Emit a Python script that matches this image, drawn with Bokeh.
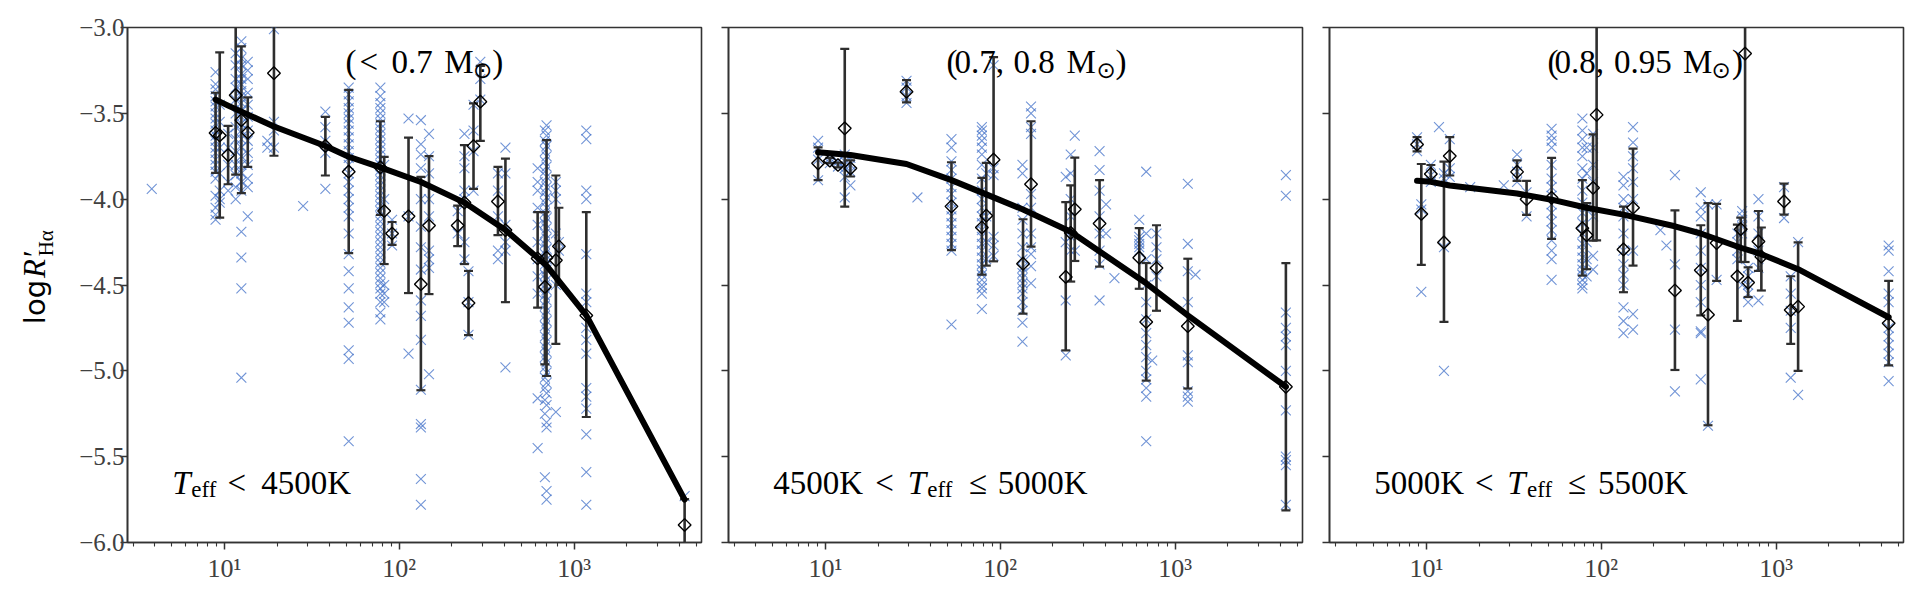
import math
from bokeh.plotting import figure
from bokeh.models import FixedTicker, CustomJSTickFormatter, Label, Range1d
from bokeh.layouts import row
from bokeh.embed import file_html
from bokeh.resources import INLINE

# ---------------- data ----------------
X_RANGE = (2.79, 5358.0)
Y_RANGE = (-6.0, -3.0)
y_ticks = [-6.0, -5.5, -5.0, -4.5, -4.0, -3.5, -3.0]
x_ticks = [10, 100, 1000]
x_minor = [3, 4, 5, 6, 7, 8, 9, 20, 30, 40, 50, 60, 70, 80, 90,
           200, 300, 400, 500, 600, 700, 800, 900, 2000, 3000, 4000, 5000]

# individual stars: (cluster age, [log R'Ha values])
p1_stars = [
    (3.84, [-3.94]),
    (8.9, [-3.26, -3.33, -3.36, -3.4, -3.43, -3.46, -3.5, -3.53, -3.56, -3.6, -3.63, -3.66,
           -3.7, -3.73, -3.77, -3.8, -3.84, -3.88, -3.98, -4.05, -4.09, -4.12]),
    (9.4, [-3.45, -3.55, -3.7, -3.85, -3.95, -4.0, -4.02]),
    (10.5, [-3.62, -3.7, -3.8, -3.9, -3.95]),
    (11.6, [-3.15, -3.22, -3.3, -3.35, -3.42, -3.5, -3.58, -3.65, -3.72, -3.8, -3.86, -3.93, -4.0]),
    (12.5, [-3.08, -3.12, -3.18, -3.22, -3.27, -3.3, -3.33, -3.37, -3.4, -3.44, -3.48, -3.52,
            -3.56, -3.6, -3.65, -3.7, -3.75, -3.8, -3.85, -3.9, -3.95, -4.19, -4.34, -4.52, -5.04]),
    (13.6, [-3.2, -3.25, -3.3, -3.38, -3.45, -3.52, -3.6, -3.66, -3.73, -3.8, -3.88, -3.93, -4.1]),
    (17.6, [-3.66, -3.7]),
    (19.2, [-3.01, -3.55, -3.6, -3.7]),
    (28.2, [-4.04]),
    (37.8, [-3.49, -3.58, -3.66, -3.73, -3.94]),
    (51.4, [-3.35, -3.39, -3.43, -3.47, -3.5, -3.53, -3.56, -3.6, -3.64, -3.68, -3.72, -3.76,
            -3.8, -3.85, -3.9, -3.95, -4.0, -4.05, -4.1, -4.2, -4.32, -4.42, -4.52, -4.63,
            -4.72, -4.88, -4.93, -5.41]),
    (78.0, [-3.35, -3.4, -3.44, -3.47, -3.5, -3.53, -3.56, -3.59, -3.62, -3.65, -3.68, -3.71,
            -3.74, -3.77, -3.8, -3.83, -3.86, -3.89, -3.92, -3.95, -3.98, -4.01, -4.04, -4.07,
            -4.1, -4.13, -4.16, -4.19, -4.22, -4.25, -4.28, -4.31, -4.34, -4.37, -4.4, -4.43,
            -4.46, -4.49, -4.52, -4.55, -4.6, -4.66, -4.7]),
    (82.0, [-3.8, -4.0, -4.5, -4.55, -4.6]),
    (91.0, [-4.12, -4.2, -4.27]),
    (113.0, [-3.53, -4.1, -4.9]),
    (133.0, [-3.54, -3.68, -3.74, -3.82, -4.0, -4.16, -4.28, -4.41, -4.59, -4.68, -4.82,
             -5.11, -5.31, -5.33, -5.63, -5.78]),
    (148.0, [-3.62, -3.75, -3.85, -4.0, -4.1, -4.3, -4.35, -4.4, -5.02]),
    (216.0, [-4.07, -4.2]),
    (236.0, [-3.62, -3.75, -3.82, -3.95, -4.0, -4.25, -4.35]),
    (249.0, [-4.42, -4.6, -4.79]),
    (266.0, [-3.45, -3.6, -3.72, -3.95]),
    (291.0, [-3.2, -3.3, -3.42]),
    (367.0, [-3.85, -3.95, -4.1, -4.3, -4.35]),
    (405.0, [-3.7, -3.85, -4.15, -4.25, -4.3, -4.98]),
    (619.0, [-3.82, -3.9, -3.95, -4.05, -4.15, -4.25, -4.35, -4.45, -4.55, -5.16, -5.45]),
    (681.0, [-3.6, -3.66, -3.72, -3.78, -3.84, -3.9, -3.96, -4.02, -4.08, -4.14, -4.2, -4.26,
             -4.32, -4.38, -4.44, -4.5, -4.56, -4.62, -4.68, -4.74, -4.8, -4.86, -4.92,
             -4.98, -5.04, -5.1, -5.17, -5.25, -5.62]),
    (696.0, [-3.57, -3.63, -3.69, -3.75, -3.81, -3.87, -3.93, -3.99, -4.05, -4.11, -4.17,
             -4.23, -4.29, -4.35, -4.41, -4.47, -4.53, -4.59, -4.65, -4.71, -4.77, -4.83,
             -4.89, -4.95, -5.01, -5.07, -5.13, -5.2, -5.3, -5.33, -5.7, -5.75]),
    (787.0, [-3.9, -3.95, -4.0, -4.2, -4.5, -5.24]),
    (819.0, [-4.25, -4.3]),
    (1175.0, [-3.6, -3.65, -3.95, -4.0, -4.32, -4.55, -4.6, -4.75, -4.82, -4.9, -5.1,
              -5.15, -5.22, -5.37, -5.59, -5.78]),
    (4290.0, [-5.73]),
]

p2_stars = [
    (9.08, [-3.66, -3.7, -3.77, -3.89]),
    (10.6, [-3.76, -3.79]),
    (11.8, [-3.78, -3.81]),
    (12.9, [-3.74, -3.78, -3.82, -3.87, -3.99]),
    (13.9, [-3.76, -3.8, -3.84, -3.92]),
    (29.1, [-3.31, -3.35, -3.4, -3.44]),
    (33.6, [-3.99]),
    (52.6, [-3.65, -3.7, -3.78, -3.83, -3.88, -3.93, -3.97, -4.02, -4.06, -4.1, -4.14,
            -4.18, -4.22, -4.26, -4.3, -4.73]),
    (78.5, [-3.58, -3.6, -3.63, -3.66, -3.7, -3.74, -3.8, -3.88, -3.95, -4.0, -4.05, -4.1,
            -4.14, -4.18, -4.22, -4.26, -4.3, -4.34, -4.38, -4.41, -4.44, -4.47, -4.5,
            -4.52, -4.55, -4.64]),
    (83.2, [-3.85, -4.1, -4.25, -4.35]),
    (91.6, [-3.22, -3.82, -3.86, -4.22, -4.27, -4.33]),
    (134.0, [-3.8, -3.85, -4.05, -4.12, -4.2, -4.28, -4.35, -4.4, -4.43, -4.46, -4.49,
             -4.52, -4.55, -4.6, -4.65, -4.72, -4.83]),
    (150.0, [-3.46, -3.5, -3.58, -3.62, -3.97, -4.05, -4.2, -4.28, -4.32, -4.39, -4.49]),
    (237.0, [-3.87, -4.25, -4.59, -4.91]),
    (253.0, [-3.74, -3.85, -4.0, -4.1, -4.22, -4.3]),
    (267.0, [-3.63, -4.3]),
    (370.0, [-3.72, -3.83, -3.95, -4.1, -4.2, -4.3, -4.38, -4.59]),
    (403.0, [-4.03, -4.2]),
    (450.0, [-4.46]),
    (624.0, [-4.12, -4.22, -4.24, -4.26, -4.28, -4.3]),
    (684.0, [-3.84, -4.2, -4.35, -4.5, -4.6, -4.7, -4.78, -4.85, -4.92, -5.0, -5.05,
             -5.1, -5.15, -5.41]),
    (740.0, [-4.94]),
    (783.0, [-4.2, -4.28, -4.35, -4.45]),
    (1183.0, [-3.91, -4.26, -4.42, -4.6, -4.91, -4.95, -5.12, -5.15, -5.18]),
    (1309.0, [-4.44]),
    (4305.0, [-3.86, -3.98, -4.66, -4.75, -4.8, -4.85, -5.0, -5.23, -5.5, -5.52, -5.55, -5.78]),
]

p3_stars = [
    (8.84, [-3.64, -3.68, -3.72]),
    (9.35, [-4.03, -4.06, -4.54]),
    (10.6, [-3.8, -3.86, -3.9]),
    (11.8, [-3.58]),
    (12.6, [-3.85, -3.88, -4.28, -5.0]),
    (13.6, [-3.65, -3.82, -3.87]),
    (17.8, [-3.93]),
    (27.7, [-3.92]),
    (33.0, [-3.74, -3.8, -3.84, -3.9]),
    (37.4, [-3.96, -4.1]),
    (52.0, [-3.59, -3.63, -3.66, -3.7, -3.8, -3.88, -3.93, -3.98, -4.03, -4.08, -4.13,
            -4.18, -4.24, -4.3, -4.35, -4.47]),
    (78.0, [-3.53, -3.6, -3.65, -3.7, -3.75, -3.82, -3.88, -3.95, -4.02, -4.08, -4.14,
            -4.2, -4.26, -4.3, -4.34, -4.38, -4.41, -4.44, -4.47, -4.5, -4.52]),
    (82.5, [-3.7, -3.85, -4.05, -4.25, -4.35, -4.45]),
    (89.8, [-3.62, -3.7, -3.8, -3.9, -4.1, -4.33, -4.41]),
    (134.0, [-3.87, -3.92, -4.0, -4.05, -4.1, -4.2, -4.3, -4.38, -4.44, -4.5, -4.63,
             -4.71, -4.78]),
    (152.0, [-3.58, -3.67, -3.75, -3.82, -3.9, -4.0, -4.3, -4.67, -4.76]),
    (218.0, [-4.18]),
    (236.0, [-4.27]),
    (264.0, [-3.86, -4.38, -4.76, -5.12]),
    (371.0, [-3.96, -4.05, -4.1, -4.2, -4.3, -4.4, -4.5, -4.6, -4.77, -4.78, -5.05]),
    (408.0, [-4.03, -5.32]),
    (457.0, [-4.03, -4.47]),
    (601.0, [-4.2, -4.25, -4.3, -4.35]),
    (640.0, [-4.07, -4.1, -4.13, -4.16, -4.2, -4.5]),
    (692.0, [-4.4, -4.45, -4.5, -4.55, -4.6]),
    (793.0, [-4.0, -4.1, -4.2, -4.3, -4.4, -4.59]),
    (1111.0, [-3.93, -4.11]),
    (1213.0, [-4.45, -4.55, -4.65, -4.75, -5.04]),
    (1337.0, [-4.25, -5.14]),
    (4406.0, [-4.27, -4.3, -4.42, -4.55, -4.6, -4.75, -4.8, -4.85, -4.9, -4.95, -5.06]),
]

# cluster medians: (age, value, lower, upper)
p1_med = [
    (8.9, -3.614, -3.847, -3.38), (9.4, -3.629, -4.107, -3.145), (10.5, -3.743, -3.913, -3.573),
    (11.6, -3.394, -3.857, -2.8), (12.5, -3.54, -3.965, -3.11), (13.6, -3.612, -3.812, -3.407),
    (19.2, -3.266, -3.747, -2.9), (37.8, -3.69, -3.862, -3.521), (51.4, -3.84, -4.314, -3.363),
    (78.0, -3.815, -4.092, -3.546), (82.0, -4.069, -4.378, -3.754), (91.0, -4.2, -4.266, -4.133),
    (113.0, -4.10, -4.547, -3.641), (133.0, -4.495, -5.113, -3.87), (148.0, -4.154, -4.553, -3.749),
    (216.0, -4.154, -4.273, -4.038), (236.0, -4.02, -4.378, -3.685), (249.0, -4.605, -4.792, -4.418),
    (266.0, -3.691, -3.94, -3.442), (291.0, -3.432, -3.66, -3.224), (367.0, -4.013, -4.21, -3.812),
    (405.0, -4.18, -4.60, -3.764), (619.0, -4.345, -4.632, -4.075), (681.0, -4.511, -4.962, -4.075),
    (696.0, -4.341, -5.03, -3.656), (787.0, -4.356, -4.843, -3.862), (819.0, -4.275, -4.5, -4.05),
    (1175.0, -4.677, -5.269, -4.075), (4290.0, -5.898, -6.2, -5.747),
]
p2_med = [
    (9.08, -3.791, -3.889, -3.698), (10.6, -3.776, -3.79, -3.76), (11.8, -3.801, -3.815, -3.787),
    (12.9, -3.587, -4.044, -3.125), (13.9, -3.82, -3.868, -3.774), (29.1, -3.374, -3.436, -3.307),
    (52.6, -4.042, -4.297, -3.785), (78.5, -4.165, -4.44, -3.876), (83.2, -4.096, -4.387, -3.789),
    (91.6, -3.77, -4.362, -3.172), (135.0, -4.376, -4.667, -4.117), (150.0, -3.913, -4.277, -3.546),
    (237.0, -4.453, -4.881, -4.017), (253.0, -4.196, -4.48, -3.92), (267.0, -4.059, -4.36, -3.758),
    (370.0, -4.142, -4.393, -3.889), (624.0, -4.341, -4.522, -4.169), (684.0, -4.715, -5.057, -4.372),
    (783.0, -4.401, -4.65, -4.152), (1183.0, -4.74, -5.103, -4.347), (4305.0, -5.093, -5.813, -4.372),
]
p3_med = [
    (8.84, -3.681, -3.722, -3.639), (9.35, -4.086, -4.383, -3.795), (10.6, -3.853, -3.905, -3.801),
    (12.6, -4.252, -4.715, -3.781), (13.6, -3.749, -3.862, -3.639), (33.0, -3.841, -3.893, -3.774),
    (37.4, -4.0, -4.092, -3.893), (52.0, -3.992, -4.231, -3.76), (78.0, -4.169, -4.445, -3.889),
    (82.5, -4.21, -4.408, -4.023), (89.8, -3.934, -4.241, -3.623), (94.1, -3.509, -4.24, -2.5),
    (134.0, -4.293, -4.542, -4.044), (152.0, -4.05, -4.387, -3.706), (264.0, -4.532, -4.995, -4.065),
    (371.0, -4.414, -4.677, -4.152), (408.0, -4.673, -5.317, -4.023), (457.0, -4.256, -4.476, -4.027),
    (601.0, -4.449, -4.709, -4.148), (628.0, -4.175, -4.366, -4.107), (665.0, -3.152, -4.366, -2.0),
    (692.0, -4.486, -4.57, -4.397), (793.0, -4.246, -4.418, -4.069), (824.0, -4.335, -4.532, -4.165),
    (1111.0, -4.013, -4.09, -3.909), (1213.0, -4.646, -4.843, -4.449), (1337.0, -4.626, -5.0, -4.252),
    (4406.0, -4.723, -4.968, -4.476),
]

# model curves
p1_fit_x = [8.9, 10.5, 12.5, 19.2, 37.8, 51.4, 78.0, 133.0, 236.0, 405.0, 696.0, 1175.0, 4290.0]
p1_fit_y = [-3.42, -3.455, -3.49, -3.577, -3.69, -3.753, -3.815, -3.90, -4.02, -4.18, -4.387, -4.677, -5.75]
p2_fit_x = [9.08, 13.9, 29.1, 52.6, 83.2, 135.0, 253.0, 684.0, 1183.0, 4305.0]
p2_fit_y = [-3.727, -3.743, -3.795, -3.889, -3.972, -4.06, -4.19, -4.49, -4.677, -5.093]
p3_fit_x = [8.84, 10.6, 13.6, 33.0, 52.0, 82.5, 134.0, 264.0, 371.0, 628.0, 793.0, 1337.0, 4406.0]
p3_fit_y = [-3.893, -3.899, -3.92, -3.967, -4.003, -4.05, -4.09, -4.158, -4.2, -4.283, -4.314, -4.408, -4.688]

# ---------------- styling ----------------
BLUE = "#4270c8"
FRAME = "#333333"
BAR = "#2e2e2e"
TICKTXT = "#404040"
SERIF = "Liberation Serif"
SANS = "DejaVu Sans"
FIG_H = 592
K_BASE = 0.33   # observed baseline correction, in em


def fx(f):
    lo, hi = math.log10(X_RANGE[0]), math.log10(X_RANGE[1])
    return 10 ** (lo + f * (hi - lo))


def fy(f):
    return Y_RANGE[0] + f * (Y_RANGE[1] - Y_RANGE[0])


def flatten(groups):
    xs, ys = [], []
    for x, vals in groups:
        for v in vals:
            xs.append(x)
            ys.append(v)
    return xs, ys


def make_panel(width, left_border, stars, med, fit_x, fit_y, show_ylabels):
    p = figure(width=width, height=FIG_H, x_axis_type="log",
               x_range=Range1d(*X_RANGE), y_range=Range1d(*Y_RANGE),
               output_backend="svg", toolbar_location=None, title=None,
               min_border_left=left_border, min_border_right=6,
               min_border_top=27, min_border_bottom=50)
    p.background_fill_color = "white"
    p.border_fill_color = "white"
    p.xgrid.visible = False
    p.ygrid.visible = False
    p.outline_line_color = FRAME
    p.outline_line_width = 1.6

    for ax in (p.xaxis[0], p.yaxis[0]):
        ax.axis_line_color = FRAME
        ax.axis_line_width = 1.6
        ax.major_tick_line_color = FRAME
        ax.major_tick_line_width = 1.5
        ax.major_tick_in = 0
        ax.major_tick_out = 7
        ax.minor_tick_line_color = FRAME
        ax.minor_tick_line_width = 1.1
        ax.minor_tick_in = 0
        ax.minor_tick_out = 4
        ax.major_label_text_font = SERIF
        ax.major_label_text_font_size = "26px"
        ax.major_label_text_color = TICKTXT

    p.xaxis.ticker = FixedTicker(ticks=x_ticks, minor_ticks=x_minor)
    p.xaxis.formatter = CustomJSTickFormatter(code=r"""
        const sup = {'0':'\u2070','1':'\u00b9','2':'\u00b2','3':'\u00b3','4':'\u2074','5':'\u2075'};
        const e = Math.round(Math.log10(tick)).toString();
        return '10' + e.split('').map(c => sup[c]).join('');
    """)
    p.xaxis.major_label_standoff = 4

    p.yaxis.ticker = FixedTicker(ticks=y_ticks, minor_ticks=[])
    if show_ylabels:
        p.yaxis.formatter = CustomJSTickFormatter(
            code=r"return (tick < 0 ? '\u2212' : '') + Math.abs(tick).toFixed(1);")
        p.yaxis.major_label_standoff = -4
        p.yaxis.major_label_text_font_size = "25px"
    else:
        p.yaxis.formatter = CustomJSTickFormatter(code="return '';")
        p.yaxis.major_label_standoff = 0
        p.yaxis.major_label_text_font_size = "1px"

    sx, sy = flatten(stars)
    p.scatter(sx, sy, marker="x", size=14, line_color=BLUE, line_alpha=0.75, line_width=1.1)

    mx = [m[0] for m in med]
    my = [m[1] for m in med]
    mlo = [m[2] for m in med]
    mhi = [m[3] for m in med]
    p.segment(x0=mx, y0=mlo, x1=mx, y1=mhi, line_color=BAR, line_width=2.6)
    p.scatter(mx, mlo, marker="dash", size=9, line_color=BAR, line_width=2.2)
    p.scatter(mx, mhi, marker="dash", size=9, line_color=BAR, line_width=2.2)
    p.scatter(mx, my, marker="square", angle=math.pi / 4, size=9,
              line_color="black", line_width=1.4, fill_alpha=0)

    p.line(fit_x, fit_y, line_color="black", line_width=6, line_cap="round", line_join="round")
    return p


def add_text(p, x, y, text, size, dx=0.0, dy=0.0, font=SERIF, style="normal"):
    """horizontal text; (x, y) is the intended baseline-left point"""
    p.add_layout(Label(x=x, y=y, text=text, x_offset=dx, y_offset=dy + K_BASE * size,
                       text_font=font, text_font_size=f"{size}px", text_font_style=style,
                       text_color="black", text_align="left", text_baseline="alphabetic"))


def add_vtext(p, x, y, text, size, font=SERIF, style="normal"):
    """text reading bottom-to-top in the pixel-unit strip; x is the baseline column"""
    p.add_layout(Label(x=x - K_BASE * size, y=y, text=text,
                       text_font=font, text_font_size=f"{size}px", text_font_style=style,
                       text_color="black", text_align="left", text_baseline="alphabetic",
                       angle=math.pi / 2))


# narrow strip holding the rotated y-axis title (data units == page pixels)
LAB_W = 60
lab = figure(width=LAB_W, height=FIG_H, x_range=Range1d(0, LAB_W), y_range=Range1d(FIG_H, 0),
             output_backend="svg", toolbar_location=None, title=None,
             x_axis_location=None, y_axis_location=None,
             min_border_left=0, min_border_right=0, min_border_top=0, min_border_bottom=0)
lab.outline_line_color = None
lab.xgrid.visible = False
lab.ygrid.visible = False
lab.background_fill_color = "white"
lab.border_fill_color = "white"
add_vtext(lab, 44, 341, "log", 29, font=SANS)
add_vtext(lab, 44, 288, "R′", 31, style="italic")
add_vtext(lab, 52.5, 263, "Hα", 21)

p1 = make_panel(701 + 6 - LAB_W, 127 - LAB_W, p1_stars, p1_med, p1_fit_x, p1_fit_y, True)
p2 = make_panel(601, 21, p2_stars, p2_med, p2_fit_x, p2_fit_y, False)
p3 = make_panel(601, 21, p3_stars, p3_med, p3_fit_x, p3_fit_y, False)

# mass-range labels (top)
mx0, my0 = fx(0.38), fy(0.9126)
add_text(p1, mx0, my0, "(", 33, 0)
add_text(p1, mx0, my0, "<", 33, 14)
add_text(p1, mx0, my0, "0.7", 33, 46)
add_text(p1, mx0, my0, "M", 33, 98.6)
add_text(p1, mx0, my0, "⊙", 23, 127.5, -5, font=SANS)
add_text(p1, mx0, my0, ")", 33, 146.6)

add_text(p2, mx0, my0, "(", 33, 0)
add_text(p2, mx0, my0, "0.7,", 33, 8)
add_text(p2, mx0, my0, "0.8", 33, 67)
add_text(p2, mx0, my0, "M", 33, 120)
add_text(p2, mx0, my0, "⊙", 23, 150, -5, font=SANS)
add_text(p2, mx0, my0, ")", 33, 169)

add_text(p3, mx0, my0, "(", 33, 0)
add_text(p3, mx0, my0, "0.8,", 33, 7)
add_text(p3, mx0, my0, "0.95", 33, 66.4)
add_text(p3, mx0, my0, "M", 33, 135.4)
add_text(p3, mx0, my0, "⊙", 23, 164, -5, font=SANS)
add_text(p3, mx0, my0, ")", 33, 184.5)

# temperature labels (bottom)
tx0, ty0 = fx(0.078), fy(0.0951)
add_text(p1, tx0, ty0, "T", 33, 0, style="italic")
add_text(p1, tx0, ty0, "eff", 23, 19, -4)
add_text(p1, tx0, ty0, "<", 33, 55.3)
add_text(p1, tx0, ty0, "4500K", 33, 89)

add_text(p2, tx0, ty0, "4500K", 33, 0)
add_text(p2, tx0, ty0, "<", 33, 102)
add_text(p2, tx0, ty0, "T", 33, 134.5, style="italic")
add_text(p2, tx0, ty0, "eff", 23, 154, -4)
add_text(p2, tx0, ty0, "≤", 33, 195.5)
add_text(p2, tx0, ty0, "5000K", 33, 224.5)

add_text(p3, tx0, ty0, "5000K", 33, 0)
add_text(p3, tx0, ty0, "<", 33, 100.7)
add_text(p3, tx0, ty0, "T", 33, 133, style="italic")
add_text(p3, tx0, ty0, "eff", 23, 152.7, -4)
add_text(p3, tx0, ty0, "≤", 33, 193.4)
add_text(p3, tx0, ty0, "5500K", 33, 223.7)

layout = row(lab, p1, p2, p3)
open("out.html", "w").write(file_html(layout, INLINE))
